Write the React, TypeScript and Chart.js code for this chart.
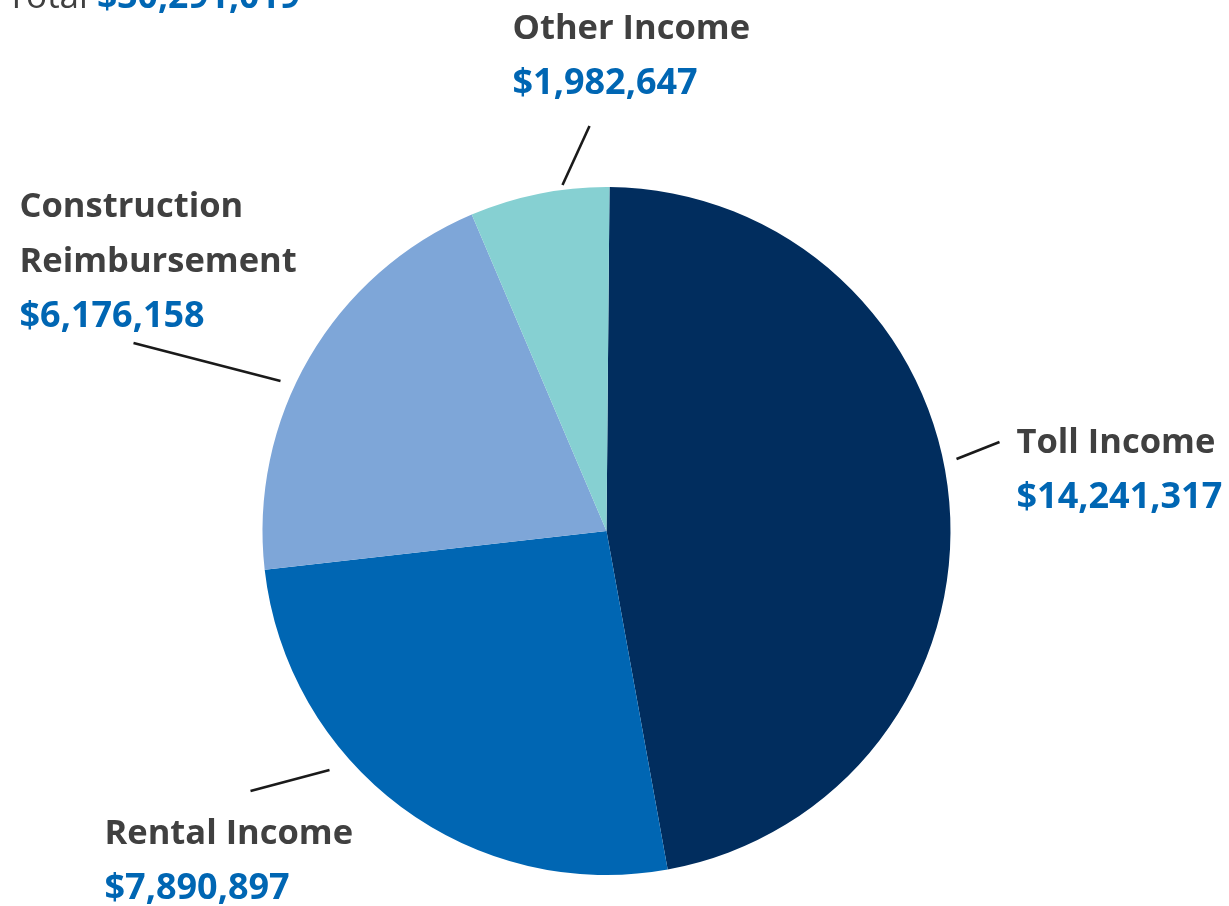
import React, { useEffect, useRef } from "react";
import { Chart, registerables } from "chart.js";

Chart.register(...registerables);

const categories = ["Toll Income", "Rental Income", "Construction Reimbursement", "Other Income"];
const values = [14241317, 7890897, 6176158, 1982647];
const sliceColors = ["#012d5e", "#0066b3", "#7ea6d8", "#86d0d2"];
const labelLines = [["Toll Income"], ["Rental Income"], ["Construction", "Reimbursement"], ["Other Income"]];
const totalLabel = "Total";

const fmt = (v: number) => "$" + v.toLocaleString("en-US");

// layout of label blocks & leader lines, relative to pie center (px)
const labelLayout = [
  { x: 410, y: -78, line: [[350, -72], [393, -89]] },
  { x: -502, y: 313, line: [[-277, 239], [-356, 260]] },
  { x: -587, y: -314, line: [[-326, -150], [-473, -188]] },
  { x: -94, y: -492, line: [[-44, -346], [-17, -405]] },
];

const FONT = "'Open Sans', 'Noto Sans', sans-serif";
const LINE_GAP = 55;

const labelPlugin = {
  id: "pieLabels",
  afterDraw(chart: any) {
    const ctx = chart.ctx;
    const arc = chart.getDatasetMeta(0).data[0];
    const cx = arc.x;
    const cy = arc.y;
    ctx.save();
    ctx.textBaseline = "alphabetic";
    ctx.textAlign = "left";
    labelLayout.forEach((l, i) => {
      ctx.strokeStyle = "#1a1a1a";
      ctx.lineWidth = 2.6;
      ctx.beginPath();
      ctx.moveTo(cx + l.line[0][0], cy + l.line[0][1]);
      ctx.lineTo(cx + l.line[1][0], cy + l.line[1][1]);
      ctx.stroke();
      let y = cy + l.y;
      ctx.font = `bold 34.5px ${FONT}`;
      ctx.fillStyle = "#404040";
      labelLines[i].forEach((t) => {
        ctx.fillText(t, cx + l.x, y);
        y += LINE_GAP;
      });
      ctx.font = `bold 36px ${FONT}`;
      ctx.fillStyle = "#0066b3";
      ctx.fillText(fmt(values[i]), cx + l.x, y);
    });
    // title
    const total = values.reduce((a, b) => a + b, 0);
    ctx.font = `35px ${FONT}`;
    ctx.fillStyle = "#404040";
    ctx.textAlign = "right";
    ctx.fillText(totalLabel + " ", cx - 509.5, cy - 523);
    ctx.font = `bold 35.5px ${FONT}`;
    ctx.fillStyle = "#0066b3";
    ctx.textAlign = "left";
    ctx.fillText(fmt(total), cx - 509.5, cy - 523);
    ctx.restore();
  },
};

export default function App() {
  const ref = useRef<HTMLCanvasElement>(null);
  useEffect(() => {
    document.body.style.margin = "0";
    const chart = new Chart(ref.current!, {
      type: "pie",
      data: {
        labels: categories,
        datasets: [
          {
            data: values,
            backgroundColor: sliceColors,
            borderWidth: 0,
          },
        ],
      },
      options: {
        animation: false,
        responsive: false,
        rotation: 0.5,
        radius: 344,
        layout: { padding: { left: 0, right: 16, top: 156, bottom: 0 } },
        plugins: {
          legend: { display: false },
          tooltip: { enabled: false },
        },
      },
      plugins: [labelPlugin],
    });
    return () => chart.destroy();
  }, []);
  return (
    <div style={{ width: 1229, height: 906 }}>
      <canvas ref={ref} width={1229} height={906} style={{ width: 1229, height: 906, display: "block" }} />
    </div>
  );
}
